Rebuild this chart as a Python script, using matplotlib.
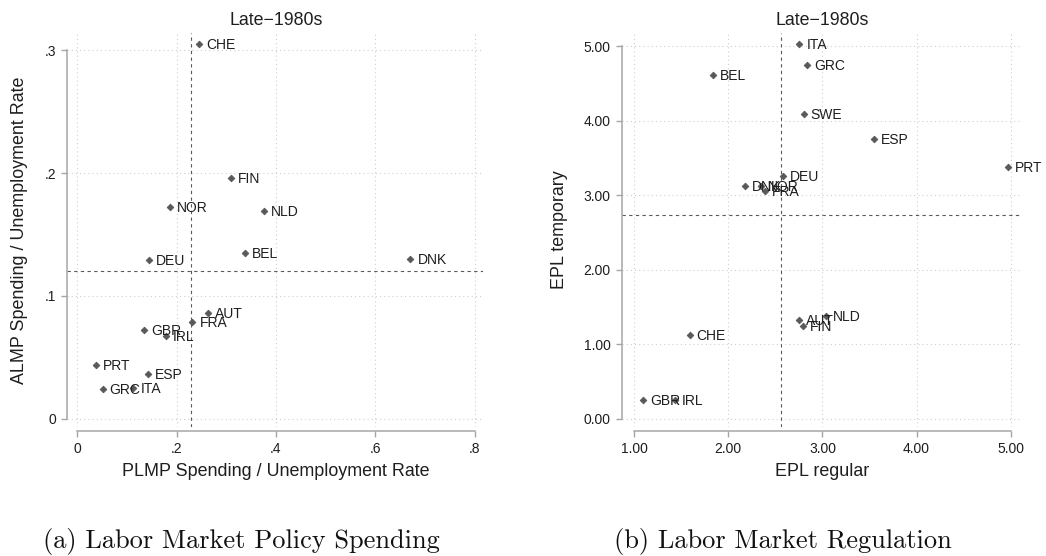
import matplotlib
matplotlib.use("Agg")
import matplotlib.pyplot as plt

# ---- Panel (a): labour market policy spending ----
spend_countries = ["CHE", "FIN", "NOR", "NLD", "BEL", "DEU", "DNK", "AUT",
                   "FRA", "GBR", "IRL", "PRT", "ESP", "GRC", "ITA"]
plmp = [0.246, 0.310, 0.187, 0.376, 0.337, 0.144, 0.671, 0.263,
        0.232, 0.134, 0.179, 0.037, 0.142, 0.051, 0.113]
almp = [0.305, 0.196, 0.172, 0.169, 0.135, 0.129, 0.130, 0.086,
        0.079, 0.072, 0.067, 0.044, 0.036, 0.024, 0.025]
plmp_mean = 0.23
almp_mean = 0.12
spend_xticks = [0, 0.2, 0.4, 0.6, 0.8]
spend_xticklabels = ["0", ".2", ".4", ".6", ".8"]
spend_yticks = [0, 0.1, 0.2, 0.3]
spend_yticklabels = ["0", ".1", ".2", ".3"]

# ---- Panel (b): labour market regulation ----
epl_countries = ["ITA", "GRC", "BEL", "SWE", "ESP", "PRT", "DEU", "DNK",
                 "NOR", "FRA", "CHE", "GBR", "IRL", "AUT", "FIN", "NLD"]
epl_regular = [2.755, 2.84, 1.84, 2.80, 3.55, 4.97, 2.58, 2.18,
               2.35, 2.39, 1.59, 1.10, 1.43, 2.75, 2.79, 3.04]
epl_temporary = [5.03, 4.75, 4.62, 4.09, 3.76, 3.38, 3.26, 3.13,
                 3.13, 3.06, 1.12, 0.25, 0.25, 1.32, 1.25, 1.38]
regular_mean = 2.56
temporary_mean = 2.74
epl_xticks = [1, 2, 3, 4, 5]
epl_xticklabels = ["1.00", "2.00", "3.00", "4.00", "5.00"]
epl_yticks = [0, 1, 2, 3, 4, 5]
epl_yticklabels = ["0.00", "1.00", "2.00", "3.00", "4.00", "5.00"]

W, H = 1046, 556
SANS = ["Liberation Sans", "DejaVu Sans"]
plt.rcParams["font.family"] = SANS
plt.rcParams["lines.scale_dashes"] = False

MARK = "#595959"
SPINE = "#a6a6a6"
GRID = "#cfcfcf"
TEXT = "#1e1e1e"


def rect(x0, y0, x1, y1):
    return [x0 / W, 1 - y1 / H, (x1 - x0) / W, (y1 - y0) / H]


def style_panel(ax, xlim, ylim, xticks, xlabels, yticks, ylabels):
    ax.set_xlim(*xlim)
    ax.set_ylim(*ylim)
    ax.set_xticks(xticks)
    ax.set_xticklabels(xlabels)
    ax.set_yticks(yticks)
    ax.set_yticklabels(ylabels)
    for s in ("top", "right"):
        ax.spines[s].set_visible(False)
    for s in ("left", "bottom"):
        ax.spines[s].set_color(SPINE)
        ax.spines[s].set_linewidth(1.1)
    ax.spines["bottom"].set_position(("outward", 2.8))
    ax.spines["left"].set_bounds(yticks[0], yticks[-1])
    ax.spines["bottom"].set_bounds(xticks[0], xticks[-1])
    ax.tick_params(direction="out", length=4.2, width=1.0, color=SPINE,
                   labelsize=10, labelcolor=TEXT, pad=3.7)
    ax.grid(True, linestyle=(0, (0.8, 2.2)), color=GRID, linewidth=0.8)
    ax.set_axisbelow(True)
    ax.set_facecolor("white")


def scatter_labels(ax, xs, ys, names):
    ax.plot(xs, ys, linestyle="none", marker="D", markersize=3.4,
            color=MARK, markeredgecolor=MARK, markeredgewidth=0.6, zorder=3)
    for x, y, n in zip(xs, ys, names):
        ax.annotate(n, (x, y), xytext=(5.0, -3.6), textcoords="offset points",
                    ha="left", va="baseline", fontsize=10, color=TEXT,
                    zorder=4)


def mean_lines(ax, xm, ym):
    kw = dict(color="#5a5a5a", linewidth=0.8, dashes=(2.4, 2.4), zorder=2)
    ax.axvline(xm, **kw)
    ax.axhline(ym, **kw)


fig = plt.figure(figsize=(W / 100, H / 100), dpi=100)
fig.patch.set_facecolor("white")

# Panel (a)
ax1 = fig.add_axes(rect(67, 33, 483, 427))
style_panel(ax1, (-0.0207, 0.817), (-0.0068, 0.314),
            spend_xticks, spend_xticklabels, spend_yticks, spend_yticklabels)
mean_lines(ax1, plmp_mean, almp_mean)
scatter_labels(ax1, plmp, almp, spend_countries)

# Panel (b)
ax2 = fig.add_axes(rect(621.7, 33, 1020.7, 427))
style_panel(ax2, (0.869, 5.105), (-0.111, 5.178),
            epl_xticks, epl_xticklabels, epl_yticks, epl_yticklabels)
mean_lines(ax2, regular_mean, temporary_mean)
scatter_labels(ax2, epl_regular, epl_temporary, epl_countries)

# Titles and axis titles
for cx in (276, 821.7):
    fig.text(cx / W, 1 - 25.3 / H, "Late\u22121980s", ha="center",
             va="baseline", fontsize=12.8, color=TEXT)
fig.text(276 / W, 1 - 476 / H, "PLMP Spending / Unemployment Rate",
         ha="center", va="baseline", fontsize=12.9, color=TEXT)
fig.text(821.7 / W, 1 - 476 / H, "EPL regular",
         ha="center", va="baseline", fontsize=12.9, color=TEXT)
fig.text(20 / W, 1 - 230 / H, "ALMP Spending / Unemployment Rate",
         ha="center", va="center", rotation=90, fontsize=12.9, color=TEXT)
fig.text(560 / W, 1 - 230 / H, "EPL temporary",
         ha="center", va="center", rotation=90, fontsize=12.9, color=TEXT)

# Sub-figure captions
fig.text(43 / W, 1 - 548.3 / H, "(a) Labor Market Policy Spending",
         ha="left", va="baseline", fontsize=19, family="cmr10", color="#111111")
fig.text(614 / W, 1 - 548.3 / H, "(b) Labor Market Regulation",
         ha="left", va="baseline", fontsize=19, family="cmr10", color="#111111")

fig.savefig("out.png", dpi=100)
